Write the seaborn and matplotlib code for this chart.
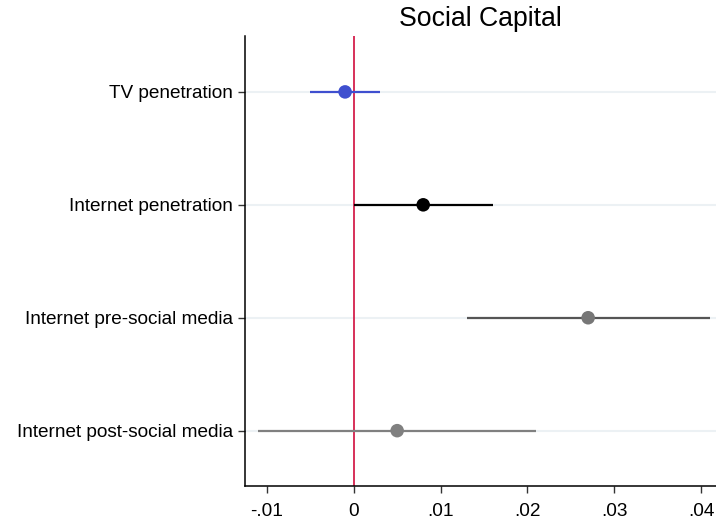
import matplotlib
matplotlib.use("Agg")
import matplotlib.pyplot as plt
import seaborn as sns
import pandas as pd

categories = ["TV penetration", "Internet penetration", "Internet pre-social media", "Internet post-social media"]
estimates = [-0.001, 0.008, 0.027, 0.005]
ci_low = [-0.005, 0.0, 0.013, -0.011]
ci_high = [0.003, 0.016, 0.041, 0.021]
line_colors = ["#3f4fcf", "#000000", "#555555", "#808080"]
marker_colors = ["#3f4fcf", "#000000", "#777777", "#808080"]
xticks = [-0.01, 0.0, 0.01, 0.02, 0.03, 0.04]
xticklabels = ["-.01", "0", ".01", ".02", ".03", ".04"]

sns.set_theme(style="white")
plt.rcParams['font.family'] = ['Liberation Sans', 'DejaVu Sans']
plt.rcParams['text.color'] = 'black'
plt.rcParams['xtick.color'] = 'black'
plt.rcParams['ytick.color'] = 'black'

df = pd.DataFrame({"cat": categories, "est": estimates, "lo": ci_low, "hi": ci_high})
ypos = list(range(1, len(categories) + 1))
df["y"] = ypos

fig = plt.figure(figsize=(7.16, 5.25), dpi=100)
ax = fig.add_axes([245/716, 39/525, 1 - 245/716, (486-36)/525])

for y in ypos:
    ax.axhline(y, color="#ecf1f4", lw=1.5, zorder=0)
ax.axvline(0, color="#d4204c", lw=1.3, zorder=1)

for i, row in df.iterrows():
    ax.hlines(row["y"], row["lo"], row["hi"], color=line_colors[i], lw=1.6, zorder=2)

sns.scatterplot(data=df, x="est", y="y", hue="cat", palette=marker_colors,
                s=95, edgecolor="none", legend=False, ax=ax, zorder=3)

ax.set_xlim(-0.01253, 0.04173)
ax.set_ylim(4.49, 0.505)
ax.set_yticks(ypos)
ax.set_yticklabels(categories, fontsize=13.7)
ax.set_xticks(xticks)
ax.set_xticklabels(xticklabels, fontsize=13.7)
ax.set_xlabel("")
ax.set_ylabel("")
for s in ["top", "right"]:
    ax.spines[s].set_visible(False)
for s in ["left", "bottom"]:
    ax.spines[s].set_color("#000000")
    ax.spines[s].set_linewidth(1.1)
ax.tick_params(axis="x", direction="out", length=5, width=1.0, color="#333333", bottom=True, pad=7)
ax.tick_params(axis="y", direction="out", length=5, width=1.0, color="#333333", left=True, pad=3.5)
ax.set_title("Social Capital", fontsize=19.2, pad=7)

fig.savefig("out.png", dpi=100)
